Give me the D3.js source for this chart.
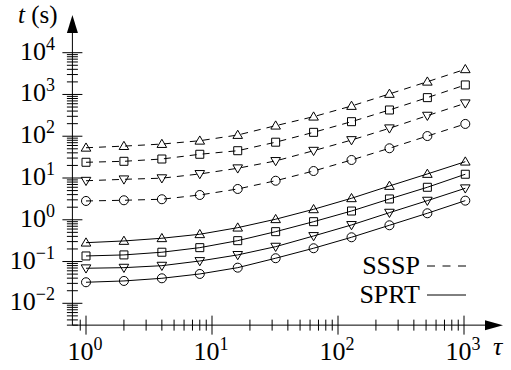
<!DOCTYPE html>
<html><head><meta charset="utf-8">
<script src="https://cdn.jsdelivr.net/npm/d3@7"></script>
<style>
html,body{margin:0;padding:0;background:#fff;}
svg{display:block;}
text{font-family:"Liberation Serif","Times New Roman",serif;fill:#000;}
</style></head>
<body>
<svg id="chart" width="511" height="370"></svg>
<script>
// ---- data ----
const tau = [1, 2, 4, 8, 16, 32, 64, 128, 256, 512, 1024];
const ssspUp     = [53, 58, 65, 78, 107, 179, 294, 530, 1030, 2020, 4010];
const ssspSquare = [23.8, 25.1, 28.5, 37, 45, 72, 124, 223, 425, 840, 1690];
const ssspDown   = [8.6, 9.3, 9.9, 12.5, 17.1, 25.6, 45, 81, 155, 311, 615];
const ssspCircle = [2.82, 2.93, 3.1, 3.92, 5.46, 8.6, 14.7, 27, 51.5, 101, 197];
const sprtUp     = [0.283, 0.311, 0.361, 0.45, 0.647, 1.03, 1.78, 3.27, 6.45, 12.5, 24.6];
const sprtSquare = [0.136, 0.144, 0.167, 0.215, 0.316, 0.519, 0.90, 1.62, 3.15, 6.0, 12.3];
const sprtDown   = [0.069, 0.0713, 0.0796, 0.103, 0.144, 0.227, 0.409, 0.751, 1.48, 2.87, 5.68];
const sprtCircle = [0.0319, 0.0343, 0.0397, 0.0504, 0.0713, 0.120, 0.208, 0.381, 0.738, 1.43, 2.87];
const xTickExps = [0, 1, 2, 3];
const yTickExps = [-2, -1, 0, 1, 2, 3, 4];
const legendLabels = ["SSSP", "SPRT"];

const series = [
  {vals: ssspUp, marker: "up", dashed: true},
  {vals: ssspSquare, marker: "square", dashed: true},
  {vals: ssspDown, marker: "down", dashed: true},
  {vals: ssspCircle, marker: "circle", dashed: true},
  {vals: sprtUp, marker: "up", dashed: false},
  {vals: sprtSquare, marker: "square", dashed: false},
  {vals: sprtDown, marker: "down", dashed: false},
  {vals: sprtCircle, marker: "circle", dashed: false}
];

// ---- scales ----
const x = d3.scaleLog().domain([1, 1000]).range([86, 464]);
const y = d3.scaleLog().domain([0.01, 10000]).range([303.3, 52.7]);
const axisY = y(0.003);   // x axis position
const axisX = x(0.78);    // y axis position
const FS = 26, SFS = 18;

const svg = d3.select("#chart");
const g = svg.append("g");

// ---- axes ----
g.append("line").attr("x1", axisX).attr("x2", 490).attr("y1", axisY).attr("y2", axisY)
  .attr("stroke", "#000").attr("stroke-width", 1);
g.append("path").attr("d", `M503,${axisY} L485,${axisY-5} L485,${axisY+5} Z`).attr("fill", "#000");
g.append("line").attr("x1", axisX).attr("x2", axisX).attr("y1", axisY).attr("y2", 28)
  .attr("stroke", "#000").attr("stroke-width", 1);
g.append("path").attr("d", `M${axisX},15 L${axisX-5.5},33 L${axisX+5.5},33 Z`).attr("fill", "#000");

// x ticks
const xMinor = [0.9];
for (let e = 0; e < 3; e++) for (let m = 2; m <= 9; m++) xMinor.push(m * Math.pow(10, e));
g.selectAll(".xminor").data(xMinor).enter().append("line")
  .attr("x1", d => x(d)).attr("x2", d => x(d))
  .attr("y1", axisY - 5.5).attr("y2", axisY + 5.5).attr("stroke", "#000").attr("stroke-width", 1);
g.selectAll(".xmajor").data(xTickExps).enter().append("line")
  .attr("x1", d => x(Math.pow(10, d))).attr("x2", d => x(Math.pow(10, d)))
  .attr("y1", axisY - 9.5).attr("y2", axisY + 9.5).attr("stroke", "#000").attr("stroke-width", 1);

// y ticks
const yMinor = [];
for (let m = 3; m <= 9; m++) yMinor.push(m * 0.001);
for (let e = -2; e < 4; e++) for (let m = 2; m <= 9; m++) yMinor.push(m * Math.pow(10, e));
g.selectAll(".yminor").data(yMinor).enter().append("line")
  .attr("x1", axisX - 5.5).attr("x2", axisX + 5.5)
  .attr("y1", d => y(d)).attr("y2", d => y(d)).attr("stroke", "#000").attr("stroke-width", 1);
g.selectAll(".ymajor").data(yTickExps).enter().append("line")
  .attr("x1", axisX - 10).attr("x2", axisX + 10)
  .attr("y1", d => y(Math.pow(10, d))).attr("y2", d => y(Math.pow(10, d))).attr("stroke", "#000").attr("stroke-width", 1);

function expLabel(sel, e) {
  sel.append("tspan").text("10");
  sel.append("tspan").attr("dy", -10).attr("font-size", SFS).text(e < 0 ? "\u2212" + (-e) : String(e));
}
xTickExps.forEach(e => {
  const t = g.append("text").attr("x", x(Math.pow(10, e)) - 1).attr("y", 359.5)
    .attr("font-size", FS).attr("text-anchor", "middle");
  expLabel(t, e);
});
yTickExps.forEach(e => {
  const t = g.append("text").attr("x", 55).attr("y", y(Math.pow(10, e)) + 7)
    .attr("font-size", FS).attr("text-anchor", "end");
  expLabel(t, e);
});

// axis titles
const yt = g.append("text").attr("x", 18).attr("y", 22.5).attr("font-size", 25);
yt.append("tspan").attr("font-style", "italic").text("t");
yt.append("tspan").text(" (s)");
g.append("text").attr("x", 493).attr("y", 355).attr("font-size", FS).attr("font-style", "italic").text("\u03C4");

// ---- series ----
const line = d3.line().x((d, i) => x(tau[i])).y(d => y(d));
function markerPath(type) {
  switch (type) {
    case "up": return "M0,-4.8 L4.8,3.4 L-4.8,3.4 Z";
    case "down": return "M0,4.8 L4.8,-3.4 L-4.8,-3.4 Z";
    case "square": return "M-4,-4 L4,-4 L4,4 L-4,4 Z";
    case "circle": return "M4.5,0 A4.5,4.5 0 1,1 -4.5,0 A4.5,4.5 0 1,1 4.5,0 Z";
  }
}
series.forEach(s => {
  g.append("path").attr("d", line(s.vals)).attr("fill", "none").attr("stroke", "#000")
    .attr("stroke-width", 1).attr("stroke-dasharray", s.dashed ? "7,6" : null);
  g.selectAll(null).data(s.vals).enter().append("path")
    .attr("transform", (d, i) => `translate(${x(tau[i])},${y(d)})`)
    .attr("d", markerPath(s.marker)).attr("fill", "none").attr("stroke", "#000").attr("stroke-width", 1);
});

// ---- legend ----
legendLabels.forEach((lab, i) => {
  const ly = 274 + i * 29;
  g.append("text").attr("x", 420).attr("y", ly).attr("font-size", FS).attr("text-anchor", "end").text(lab);
  g.append("line").attr("x1", 427).attr("x2", 466).attr("y1", ly - 8).attr("y2", ly - 8)
    .attr("stroke", "#000").attr("stroke-width", 1).attr("stroke-dasharray", i === 0 ? "8,7.5" : null);
});
</script>
</body></html>
